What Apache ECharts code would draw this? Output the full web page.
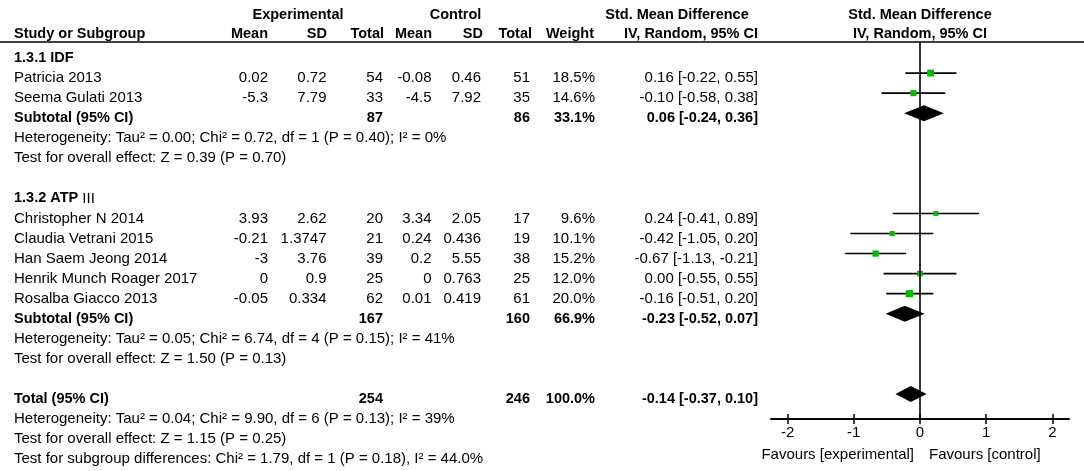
<!DOCTYPE html>
<html>
<head>
<meta charset="utf-8">
<script src="https://cdn.jsdelivr.net/npm/echarts@6/dist/echarts.min.js"></script>
<style>
  html, body { margin: 0; padding: 0; background: #fff; }
  #forest { width: 1084px; height: 471px; }
</style>
</head>
<body>
<div id="forest"></div>
<script>
// studies
var studies = ['Patricia 2013', 'Seema Gulati 2013', 'Christopher N 2014', 'Claudia Vetrani 2015',
    'Han Saem Jeong 2014', 'Henrik Munch Roager 2017', 'Rosalba Giacco 2013'];
var studyGroup = [0, 0, 1, 1, 1, 1, 1];
var expMean = [0.02, -5.3, 3.93, -0.21, -3, 0, -0.05];
var expSD = [0.72, 7.79, 2.62, 1.3747, 3.76, 0.9, 0.334];
var expN = [54, 33, 20, 21, 39, 25, 62];
var ctrlMean = [-0.08, -4.5, 3.34, 0.24, 0.2, 0, 0.01];
var ctrlSD = [0.46, 7.92, 2.05, 0.436, 5.55, 0.763, 0.419];
var ctrlN = [51, 35, 17, 19, 38, 25, 61];
var weight = [18.5, 14.6, 9.6, 10.1, 15.2, 12.0, 20.0];
var smd = [0.16, -0.10, 0.24, -0.42, -0.67, 0.00, -0.16];
var ciLow = [-0.22, -0.58, -0.41, -1.05, -1.13, -0.55, -0.51];
var ciHigh = [0.55, 0.38, 0.89, 0.20, -0.21, 0.55, 0.20];

// subgroups
var groupNames = ['{b|1.3.1 IDF}', '{b|1.3.2 ATP} III'];
var groupExpN = [87, 167];
var groupCtrlN = [86, 160];
var groupWeight = [33.1, 66.9];
var groupSmd = [0.06, -0.23];
var groupLow = [-0.24, -0.52];
var groupHigh = [0.36, 0.07];
var groupHet = ['Heterogeneity: Tau\u00b2 = 0.00; Chi\u00b2 = 0.72, df = 1 (P = 0.40); I\u00b2 = 0%',
    'Heterogeneity: Tau\u00b2 = 0.05; Chi\u00b2 = 6.74, df = 4 (P = 0.15); I\u00b2 = 41%'];
var groupTest = ['Test for overall effect: Z = 0.39 (P = 0.70)',
    'Test for overall effect: Z = 1.50 (P = 0.13)'];

// overall
var totalExpN = 254, totalCtrlN = 246, totalWeight = 100.0;
var totalSmd = -0.14, totalLow = -0.37, totalHigh = 0.10;
var totalHet = 'Heterogeneity: Tau\u00b2 = 0.04; Chi\u00b2 = 9.90, df = 6 (P = 0.13); I\u00b2 = 39%';
var totalTest = 'Test for overall effect: Z = 1.15 (P = 0.25)';
var subgroupTest = 'Test for subgroup differences: Chi\u00b2 = 1.79, df = 1 (P = 0.18), I\u00b2 = 44.0%';

var tickValues = [-2, -1, 0, 1, 2];

var FAM = '"Liberation Sans", Arial, sans-serif';
var fontR = '15px ' + FAM;
var fontB = 'bold 14.5px ' + FAM;

// row layout (one line per row)
var rows = [];
var r = 0;
var studyRows = [], diamondRows = [];
for (var g = 0; g < groupNames.length; g++) {
    rows.push({ row: r++, kind: 'group', idx: g });
    for (var i = 0; i < studies.length; i++) {
        if (studyGroup[i] === g) {
            studyRows.push([smd[i], ciLow[i], ciHigh[i], r, weight[i]]);
            rows.push({ row: r++, kind: 'study', idx: i });
        }
    }
    diamondRows.push([groupSmd[g], groupLow[g], groupHigh[g], r]);
    rows.push({ row: r++, kind: 'subtotal', idx: g });
    rows.push({ row: r++, kind: 'het', idx: g });
    rows.push({ row: r++, kind: 'test', idx: g });
    r++; // blank line
}
diamondRows.push([totalSmd, totalLow, totalHigh, r]);
rows.push({ row: r++, kind: 'total' });
rows.push({ row: r++, kind: 'totalHet' });
rows.push({ row: r++, kind: 'totalTest' });
rows.push({ row: r++, kind: 'subTest' });

function ci(e, l, h) {
    return e.toFixed(2) + ' [' + l.toFixed(2) + ', ' + h.toFixed(2) + ']';
}

var myChart = echarts.init(document.getElementById('forest'));

function renderStudy(params, api) {
    var y = api.value(3);
    var lo = api.coord([api.value(1), y]);
    var hi = api.coord([api.value(2), y]);
    var c = api.coord([api.value(0), y]);
    var s = 1.6 * Math.sqrt(api.value(4));
    return {
        type: 'group',
        children: [
            { type: 'line', shape: { x1: lo[0], y1: lo[1], x2: hi[0], y2: hi[1] },
              style: { stroke: '#000', lineWidth: 1.6 } },
            { type: 'rect', shape: { x: c[0] - s / 2, y: c[1] - s / 2, width: s, height: s },
              style: { fill: '#00bb00' } }
        ]
    };
}

function renderDiamond(params, api) {
    var y = api.value(3);
    var lo = api.coord([api.value(1), y]);
    var hi = api.coord([api.value(2), y]);
    var c = api.coord([api.value(0), y]);
    var h = 8;
    return {
        type: 'polygon',
        shape: { points: [[lo[0], lo[1]], [c[0], c[1] - h], [hi[0], hi[1]], [c[0], c[1] + h]] },
        style: { fill: '#000' }
    };
}

var axisBase = {
    type: 'value',
    min: -2.25,
    max: 2.25,
    position: 'bottom',
    splitLine: { show: false }
};

var option = {
    animation: false,
    grid: { left: 771, right: 15, top: 42, height: 377 },
    xAxis: [
        Object.assign({}, axisBase, {
            axisLine: { onZero: false, lineStyle: { color: '#000', width: 2 } },
            axisTick: { customValues: tickValues, length: 5, lineStyle: { color: '#000', width: 1.5 } },
            axisLabel: { customValues: tickValues, color: '#000', fontFamily: FAM, fontSize: 15, margin: 6 }
        }),
        Object.assign({}, axisBase, {
            axisLine: { show: false, onZero: false },
            axisTick: { customValues: tickValues, inside: true, length: 5, lineStyle: { color: '#000', width: 1.5 } },
            axisLabel: { show: false }
        })
    ],
    yAxis: { type: 'value', inverse: true, min: -0.55, max: 18.25, show: false },
    series: [
        {
            type: 'custom',
            name: 'studies',
            renderItem: renderStudy,
            encode: { x: [0, 1, 2], y: 3 },
            clip: false,
            data: studyRows
        },
        {
            type: 'custom',
            name: 'pooled',
            renderItem: renderDiamond,
            encode: { x: [0, 1, 2], y: 3 },
            clip: false,
            data: diamondRows,
            markLine: {
                silent: true,
                symbol: ['none', 'none'],
                label: { show: false },
                lineStyle: { color: '#000', width: 1.6, type: 'solid' },
                data: [{ xAxis: 0 }]
            }
        }
    ]
};
myChart.setOption(option);

// table text
var texts = [];
function txt(s, x, y, align, bold) {
    texts.push({
        type: 'text', x: x, y: y, silent: true,
        style: { text: String(s), font: bold ? fontB : fontR, fill: '#000',
                 rich: { b: { font: fontB, fill: '#000' } },
                 align: align, verticalAlign: 'middle', textAlign: align, textVerticalAlign: 'middle' }
    });
}

var colX = { name: 14, expMean: 268, expSD: 326.5, expN: 383, ctrlMean: 431.5, ctrlSD: 481, ctrlN: 530, weight: 595, ci: 758 };

// headers
txt('Experimental', 298, 15, 'center', true);
txt('Control', 455.5, 15, 'center', true);
txt('Std. Mean Difference', 677, 15, 'center', true);
txt('Std. Mean Difference', 920, 15, 'center', true);
txt('Study or Subgroup', colX.name, 33.5, 'left', true);
txt('Mean', 268, 33.5, 'right', true);
txt('SD', 327, 33.5, 'right', true);
txt('Total', 384, 33.5, 'right', true);
txt('Mean', 432, 33.5, 'right', true);
txt('SD', 483, 33.5, 'right', true);
txt('Total', 532, 33.5, 'right', true);
txt('Weight', 594, 33.5, 'right', true);
txt('IV, Random, 95% CI', 758, 33.5, 'right', true);
txt('IV, Random, 95% CI', 920, 33.5, 'center', true);
texts.push({ type: 'line', silent: true, shape: { x1: 0, y1: 42, x2: 1084, y2: 42 },
             style: { stroke: '#000', lineWidth: 1.5 } });

rows.forEach(function (it) {
    var y = myChart.convertToPixel({ yAxisIndex: 0 }, it.row) + 5;
    var k = it.idx;
    if (it.kind === 'group') {
        txt(groupNames[k], colX.name, y, 'left');
    } else if (it.kind === 'study') {
        txt(studies[k], colX.name, y, 'left');
        txt(expMean[k], colX.expMean, y, 'right');
        txt(expSD[k], colX.expSD, y, 'right');
        txt(expN[k], colX.expN, y, 'right');
        txt(ctrlMean[k], colX.ctrlMean, y, 'right');
        txt(ctrlSD[k], colX.ctrlSD, y, 'right');
        txt(ctrlN[k], colX.ctrlN, y, 'right');
        txt(weight[k].toFixed(1) + '%', colX.weight, y, 'right');
        txt(ci(smd[k], ciLow[k], ciHigh[k]), colX.ci, y, 'right');
    } else if (it.kind === 'subtotal') {
        txt('Subtotal (95% CI)', colX.name, y, 'left', true);
        txt(groupExpN[k], colX.expN, y, 'right', true);
        txt(groupCtrlN[k], colX.ctrlN, y, 'right', true);
        txt(groupWeight[k].toFixed(1) + '%', colX.weight, y, 'right', true);
        txt(ci(groupSmd[k], groupLow[k], groupHigh[k]), colX.ci, y, 'right', true);
    } else if (it.kind === 'het') {
        txt(groupHet[k], colX.name, y, 'left');
    } else if (it.kind === 'test') {
        txt(groupTest[k], colX.name, y, 'left');
    } else if (it.kind === 'total') {
        txt('Total (95% CI)', colX.name, y, 'left', true);
        txt(totalExpN, colX.expN, y, 'right', true);
        txt(totalCtrlN, colX.ctrlN, y, 'right', true);
        txt(totalWeight.toFixed(1) + '%', colX.weight, y, 'right', true);
        txt(ci(totalSmd, totalLow, totalHigh), colX.ci, y, 'right', true);
    } else if (it.kind === 'totalHet') {
        txt(totalHet, colX.name, y, 'left');
    } else if (it.kind === 'totalTest') {
        txt(totalTest, colX.name, y, 'left');
    } else if (it.kind === 'subTest') {
        txt(subgroupTest, colX.name, y, 'left');
    }
});

// favours labels under the axis
var x0 = myChart.convertToPixel({ xAxisIndex: 0 }, 0);
txt('Favours [experimental]', x0 - 6, 455, 'right');
txt('Favours [control]', x0 + 9, 455, 'left');

myChart.setOption({ graphic: { elements: texts } });

window.addEventListener('resize', function () {
    myChart.resize();
});
</script>
</body>
</html>
